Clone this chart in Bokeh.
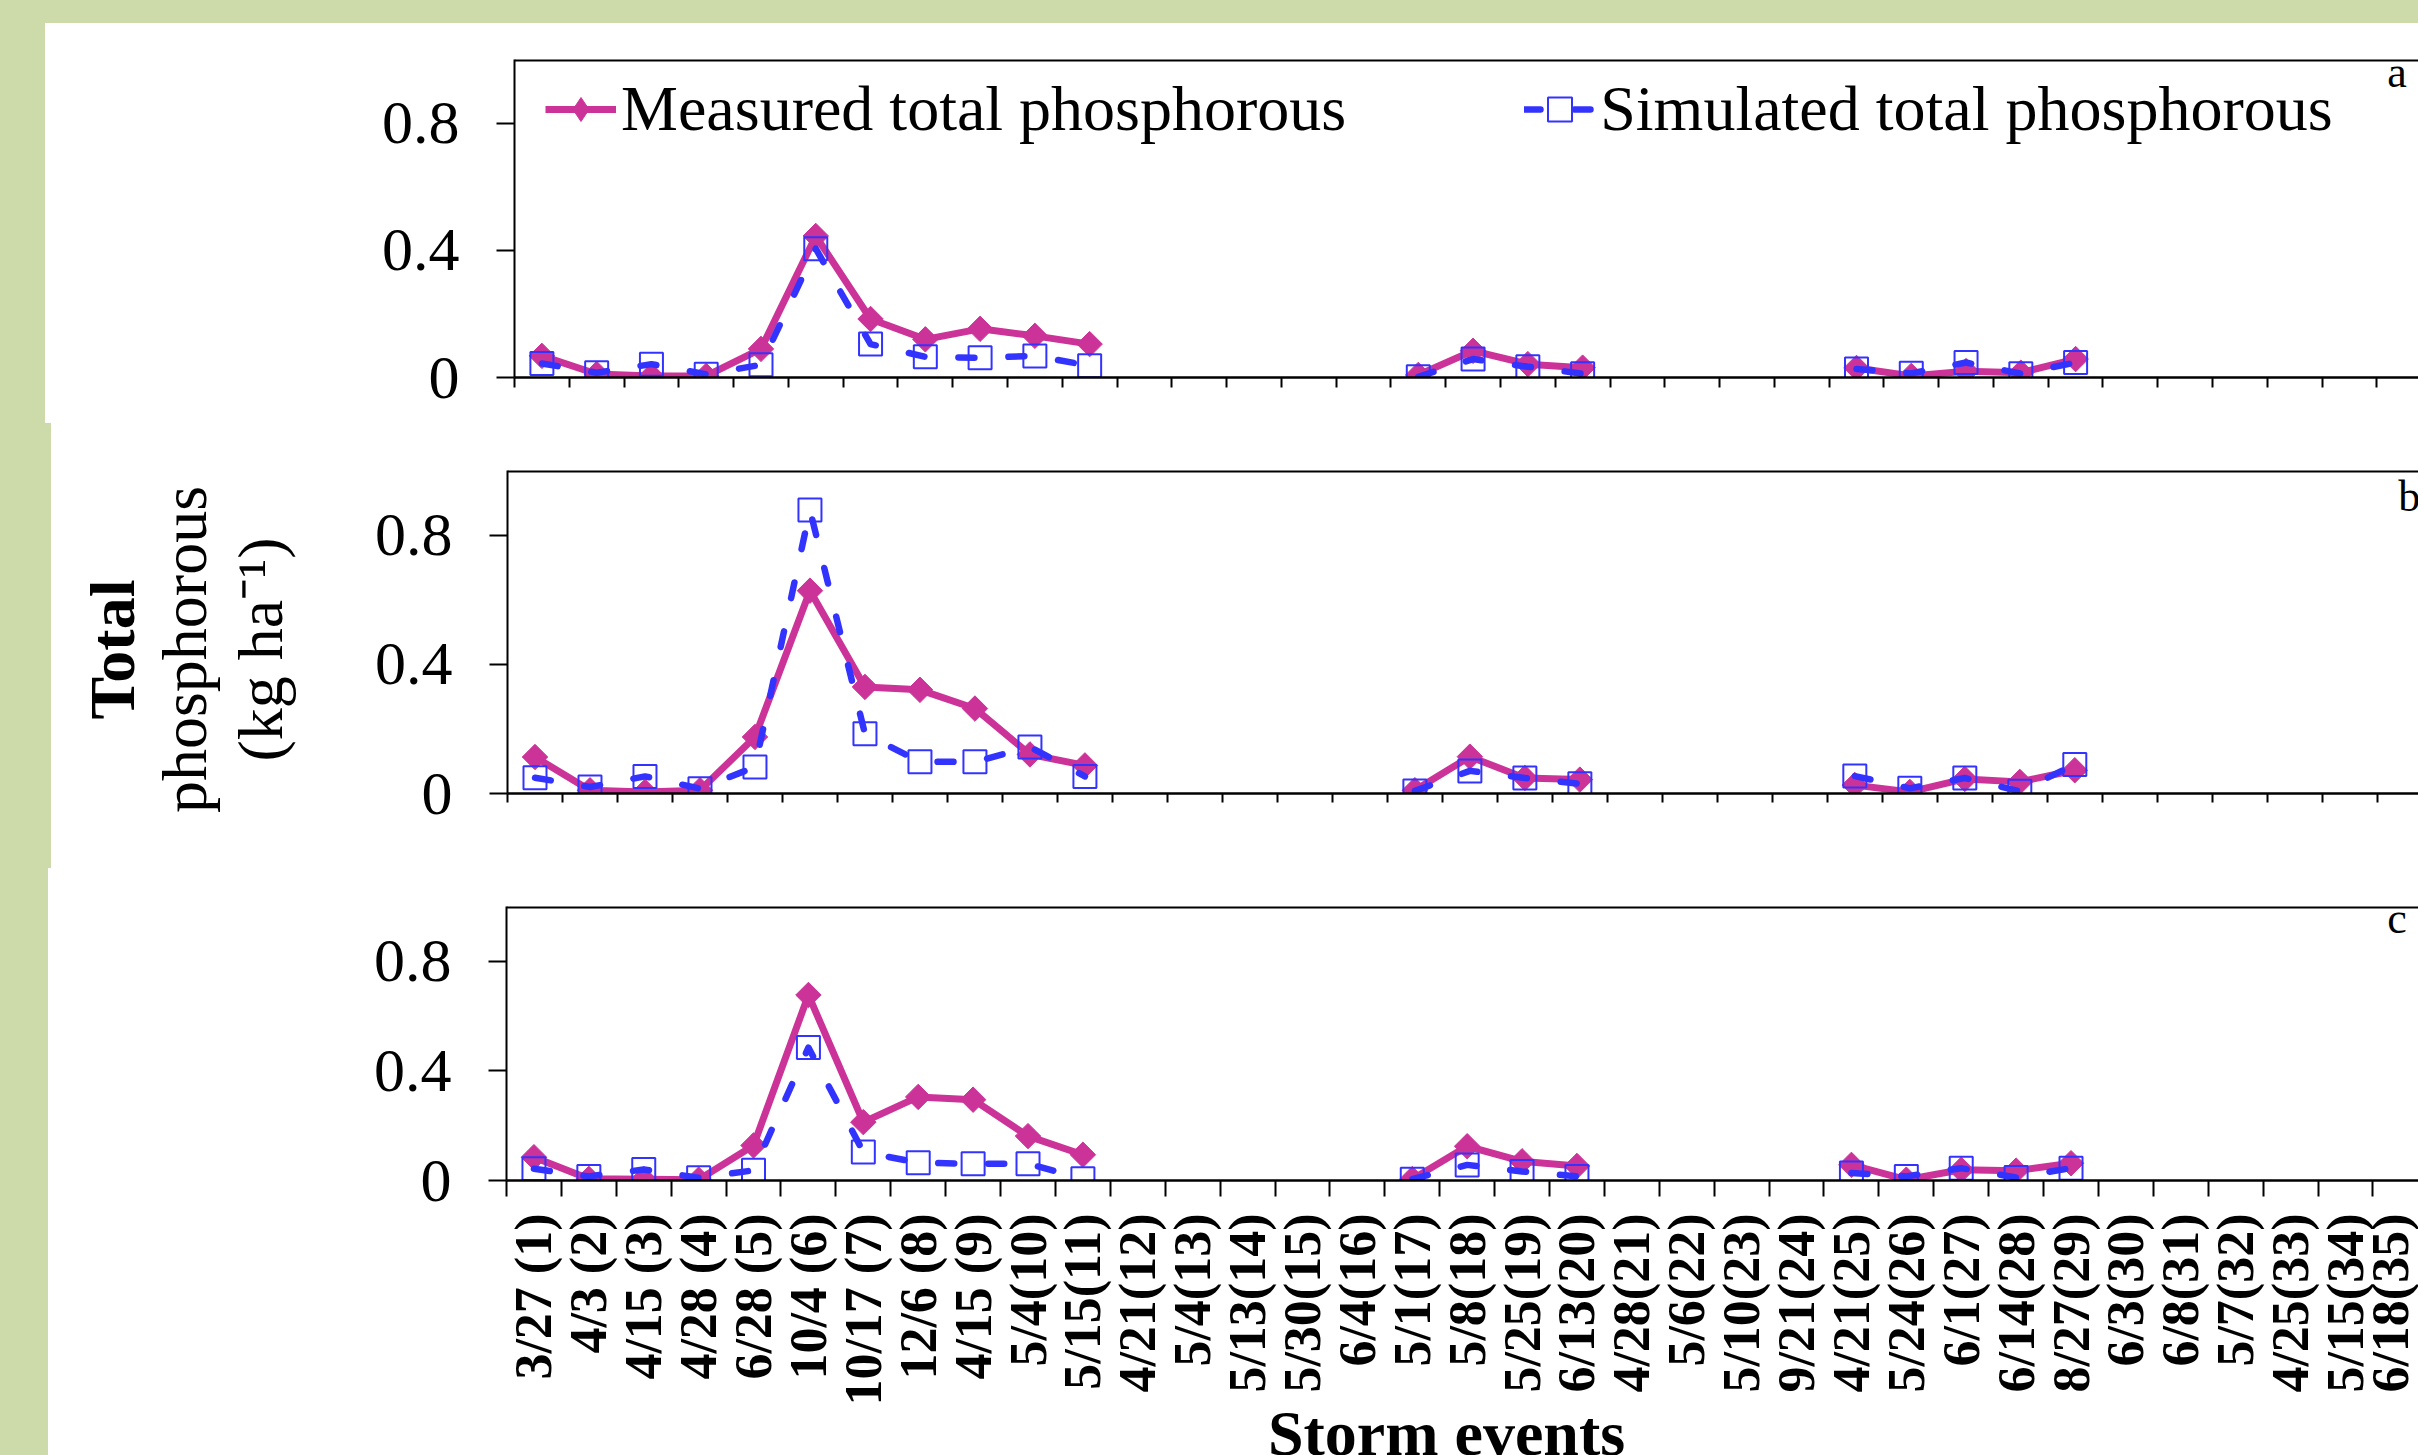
import math
from bokeh.plotting import figure
from bokeh.models import (Range1d, FixedTicker, Span, Label, Legend, LegendItem,
                          Div, ColumnDataSource)
from bokeh.layouts import column, row
from bokeh.embed import file_html
from bokeh.resources import INLINE

NaN = float("nan")

# ---------------- data ----------------
categories = ["3/27 (1)", "4/3 (2)", "4/15 (3)", "4/28 (4)", "6/28 (5)", "10/4 (6)",
              "10/17 (7)", "12/6 (8)", "4/15 (9)", "5/4(10)", "5/15(11)", "4/21(12)",
              "5/4(13)", "5/13(14)", "5/30(15)", "6/4(16)", "5/1(17)", "5/8(18)",
              "5/25(19)", "6/13(20)", "4/28(21)", "5/6(22)", "5/10(23)", "9/21(24)",
              "4/21(25)", "5/24(26)", "6/1(27)", "6/14(28)", "8/27(29)", "6/3(30)",
              "6/8(31)", "5/7(32)", "4/25(33)", "5/15(34)", "6/18(35)"]
event_index = list(range(1, 36))

y_ticks = [0, 0.4, 0.8]
y_tick_labels = ["0", "0.4", "0.8"]

measured_a = [0.068, 0.011, 0.005, 0.005, 0.090, 0.445, 0.184, 0.120, 0.153, 0.131, 0.105,
              NaN, NaN, NaN, NaN, NaN,
              0.008, 0.084, 0.042, 0.031,
              NaN, NaN, NaN, NaN,
              0.030, 0.005, 0.020, 0.015, 0.058,
              NaN, NaN, NaN, NaN, NaN, NaN]
simulated_a = [0.044, 0.015, 0.042, 0.010, 0.040, 0.405, 0.105, 0.065, 0.062, 0.068, 0.037,
               NaN, NaN, NaN, NaN, NaN,
               0.002, 0.058, 0.034, 0.012,
               NaN, NaN, NaN, NaN,
               0.027, 0.013, 0.047, 0.012, 0.047,
               NaN, NaN, NaN, NaN, NaN, NaN]

measured_b = [0.113, 0.010, 0.005, 0.010, 0.175, 0.628, 0.330, 0.321, 0.263, 0.121, 0.087,
              NaN, NaN, NaN, NaN, NaN,
              0.010, 0.114, 0.048, 0.043,
              NaN, NaN, NaN, NaN,
              0.026, 0.005, 0.045, 0.036, 0.072,
              NaN, NaN, NaN, NaN, NaN, NaN]
simulated_b = [0.049, 0.020, 0.053, 0.015, 0.082, 0.878, 0.185, 0.098, 0.098, 0.144, 0.053,
               NaN, NaN, NaN, NaN, NaN,
               0.008, 0.070, 0.048, 0.030,
               NaN, NaN, NaN, NaN,
               0.054, 0.016, 0.048, 0.007, 0.090,
               NaN, NaN, NaN, NaN, NaN, NaN]

measured_c = [0.085, 0.006, 0.005, 0.003, 0.128, 0.677, 0.213, 0.305, 0.295, 0.162, 0.094,
              NaN, NaN, NaN, NaN, NaN,
              0.005, 0.125, 0.070, 0.053,
              NaN, NaN, NaN, NaN,
              0.057, 0.003, 0.039, 0.036, 0.063,
              NaN, NaN, NaN, NaN, NaN, NaN]
simulated_c = [0.043, 0.015, 0.040, 0.010, 0.037, 0.485, 0.104, 0.065, 0.061, 0.061, 0.006,
               NaN, NaN, NaN, NaN, NaN,
               0.005, 0.057, 0.033, 0.015,
               NaN, NaN, NaN, NaN,
               0.027, 0.015, 0.045, 0.011, 0.045,
               NaN, NaN, NaN, NaN, NaN, NaN]

legend_labels = ["Measured total phosphorous", "Simulated total phosphorous"]
panel_letters = ["a", "b", "c"]
x_title = "Storm events"
y_title_lines = ["Total", "phosphorous", "(kg ha\u207b\u00b9)"]

# ---------------- style ----------------
MAGENTA = "#CC3399"
BLUE = "#3333FF"
GREEN = "#CDDBAB"
SERIF = "Liberation Serif"


def bare_figure(w, h):
    f = figure(width=w, height=h, x_range=Range1d(0, w), y_range=Range1d(0, h),
               output_backend="svg", toolbar_location=None, tools="",
               x_axis_type=None, y_axis_type=None, min_border=0)
    f.outline_line_color = None
    f.grid.visible = False
    f.background_fill_color = "white"
    f.border_fill_color = "white"
    return f


def make_panel(w, h, left, top, bottom, x_end, tick_len, measured, simulated, show_labels):
    p = figure(width=w, height=h, x_range=Range1d(0.5, x_end), y_range=Range1d(0, 1.0),
               output_backend="svg", toolbar_location=None, tools="",
               min_border_left=left, min_border_top=top, min_border_bottom=bottom,
               min_border_right=0)
    p.outline_line_color = None
    p.grid.visible = False
    p.background_fill_color = "white"
    p.border_fill_color = "white"

    # x axis: event boundaries as (minor) ticks, event labels at centres
    xa = p.xaxis[0]
    xa.ticker = FixedTicker(ticks=event_index,
                            minor_ticks=[i + 0.5 for i in range(0, 36)])
    xa.axis_line_width = 2.5
    xa.major_tick_out = 0
    xa.major_tick_in = 0
    xa.minor_tick_out = tick_len
    xa.minor_tick_in = 0
    xa.minor_tick_line_width = 2
    xa.minor_tick_line_color = "black"
    if show_labels:
        xa.major_label_overrides = {i: c for i, c in zip(event_index, categories)}
        xa.major_label_orientation = math.pi / 2
        xa.major_label_text_font = SERIF
        xa.major_label_text_font_style = "bold"
        xa.major_label_text_font_size = "52px"
        xa.major_label_text_color = "black"
        xa.major_label_standoff = 17
    else:
        xa.major_label_text_font_size = "0px"
        xa.major_label_text_color = None
        xa.major_label_standoff = 0

    ya = p.yaxis[0]
    ya.ticker = FixedTicker(ticks=y_ticks)
    ya.major_label_overrides = {v: l for v, l in zip(y_ticks, y_tick_labels)}
    ya.axis_line_width = 2
    ya.major_tick_out = 18
    ya.major_tick_in = 0
    ya.major_tick_line_width = 2
    ya.major_label_text_font = SERIF
    ya.major_label_text_font_size = "62px"
    ya.major_label_text_color = "black"
    ya.major_label_standoff = 37

    # top edge of the plot box (no right edge: the box runs past the picture)
    p.add_layout(Span(location=1.0, dimension="width", line_color="black", line_width=4))

    src = ColumnDataSource(dict(x=event_index, m=measured, s=simulated))
    lm = p.line("x", "m", source=src, line_color=MAGENTA, line_width=7, line_join="round")
    sm = p.scatter("x", "m", source=src, marker="square", size=18, angle=math.pi / 4,
                   fill_color=MAGENTA, line_color=MAGENTA)
    ls = p.line("x", "s", source=src, line_color=BLUE, line_width=6.5, line_dash="16 34",
                line_cap="round", line_join="round")
    ss = p.scatter("x", "s", source=src, marker="square", size=23, fill_color=None,
                   line_color=BLUE, line_width=2)
    return p, (lm, sm, ls, ss)


# ---------- panel a ----------
pa, ra = make_panel(2373, 400, 469, 36, 46, 35.26, 10, measured_a, simulated_a, False)
# legend-only diamond symbol (a single missing point, so nothing is drawn in the plot)
legend_diamond = pa.scatter(x=[NaN], y=[NaN], marker="diamond", size=24,
                            fill_color=MAGENTA, line_color=MAGENTA)
legend = Legend(items=[LegendItem(label=legend_labels[0], renderers=[ra[0], legend_diamond]),
                       LegendItem(label=legend_labels[1], renderers=[ra[2], ra[3]])],
                orientation="horizontal", location=(31, 230))
legend.label_text_font = SERIF
legend.label_text_font_size = "64px"
legend.label_text_color = "black"
legend.glyph_width = 71
legend.glyph_height = 60
legend.label_height = 76
legend.label_standoff = 5
legend.spacing = 178
legend.padding = 0
legend.margin = 0
legend.border_line_color = None
legend.background_fill_alpha = 0
pa.add_layout(legend)
pa.add_layout(Label(x=34.69, y=0.881, text=panel_letters[0], text_font=SERIF,
                    text_font_size="44px", text_color="black"))

# ---------- panel b (with the y-axis title to its left) ----------
ytitle = bare_figure(279, 445)
for txt, xx, style in zip(y_title_lines, [61, 133, 209], ["bold", "normal", "normal"]):
    ytitle.add_layout(Label(x=xx, y=219, text=txt, angle=math.pi / 2, text_align="center",
                            text_baseline="middle", text_font=SERIF, text_font_style=style,
                            text_font_size="64px", text_color="black"))

pb, rb = make_panel(2088, 445, 177, 47, 75, 35.25, 9, measured_b, simulated_b, False)
pb.add_layout(Label(x=34.88, y=0.844, text=panel_letters[1], text_font=SERIF,
                    text_font_size="44px", text_color="black"))

# ---------- panel c ----------
pc, rc = make_panel(2370, 540, 458, 38, 227, 35.33, 16, measured_c, simulated_c, True)
pc.add_layout(Label(x=34.76, y=0.866, text=panel_letters[2], text_font=SERIF,
                    text_font_size="44px", text_color="black"))

xtitle = bare_figure(2370, 47)
xtitle.add_layout(Label(x=1398, y=22, text=x_title, text_align="center",
                        text_baseline="middle", text_font=SERIF, text_font_style="bold",
                        text_font_size="64px", text_color="black"))


def band(w, h):
    return Div(text="", width=w, height=h, margin=0,
               styles={"background-color": GREEN})


layout = column(
    band(2418, 23),
    row(band(45, 400), pa, spacing=0),
    row(band(51, 445), column(ytitle, spacing=0), pb, spacing=0),
    row(band(48, 540), pc, spacing=0),
    row(band(48, 47), column(xtitle, spacing=0), spacing=0),
    spacing=0,
)

open("out.html", "w").write(file_html(layout, INLINE))
